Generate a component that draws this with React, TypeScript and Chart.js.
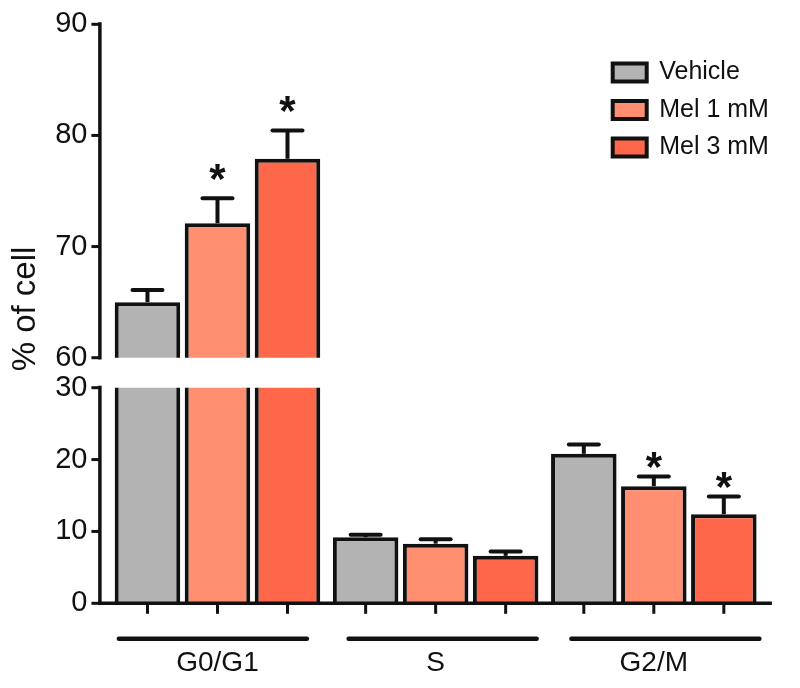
import React, { useEffect, useRef } from "react";
import { Chart, registerables } from "chart.js";

Chart.register(...registerables);

// ---------------- data ----------------
const groups = ["G0/G1", "S", "G2/M"];
const seriesNames = ["Vehicle", "Mel 1 mM", "Mel 3 mM"];
const vehicleValues = [65.0, 9.2, 20.8];
const mel1Values = [72.1, 8.3, 16.3];
const mel3Values = [77.9, 6.6, 12.4];
const vehicleErr = [1.1, 0.35, 1.3];
const mel1Err = [2.25, 0.6, 1.35];
const mel3Err = [2.55, 0.6, 2.45];
const vehicleSig = ["", "", ""];
const mel1Sig = ["*", "", "*"];
const mel3Sig = ["*", "", "*"];
const upperTicks = [60, 70, 80, 90];
const lowerTicks = [0, 10, 20, 30];
const yTitle = "% of cell";

// ---------------- style ----------------
const FONT = "'Liberation Sans', Arial, Helvetica, sans-serif";
const INK = "#111111";
const COLORS = ["#b3b3b3", "#ff8f70", "#ff674a"];
const AXIS_GAP = 8.5;
const SIG_OFFSET = 2.3; // asterisk placed this many data units above error bar
const GROUP_SHIFT = [-4.6, 7, 11.6];

Chart.defaults.font.family = FONT;
Chart.defaults.color = INK;

const allValues = [vehicleValues, mel1Values, mel3Values];
const allErr = [vehicleErr, mel1Err, mel3Err];
const allSig = [vehicleSig, mel1Sig, mel3Sig];

function buildDatasets() {
  return seriesNames.map((name, i) => ({
    label: name,
    data: allValues[i],
    backgroundColor: COLORS[i],
    borderColor: INK,
    borderWidth: 4,
    categoryPercentage: 0.9627,
    barPercentage: 0.936,
    clip: 0,
    errors: allErr[i],
    sig: allSig[i],
  }));
}

const decoPlugin = {
  id: "deco",
  afterDatasetsDraw(chart: any) {
    const ctx = chart.ctx;
    const ys = chart.scales.y;
    ctx.save();
    ctx.strokeStyle = INK;
    ctx.fillStyle = INK;
    chart.data.datasets.forEach((ds: any, i: number) => {
      const meta = chart.getDatasetMeta(i);
      ds.data.forEach((v: number, j: number) => {
        if (v < ys.min || v > ys.max) return;
        const el = meta.data[j];
        const x = el.x;
        const top = ys.getPixelForValue(v);
        const e = ds.errors[j];
        const yErr = ys.getPixelForValue(v + e);
        ctx.lineWidth = 4;
        ctx.lineCap = "butt";
        ctx.beginPath();
        ctx.moveTo(x, top);
        ctx.lineTo(x, yErr);
        ctx.stroke();
        ctx.lineCap = "round";
        ctx.beginPath();
        ctx.moveTo(x - 15, yErr);
        ctx.lineTo(x + 15, yErr);
        ctx.stroke();
        if (ds.sig[j]) {
          const cy = ys.getPixelForValue(v + e + SIG_OFFSET);
          const size = 42;
          ctx.font = `bold ${size}px ${FONT}`;
          ctx.textAlign = "center";
          ctx.textBaseline = "alphabetic";
          ctx.fillText(ds.sig[j], x, cy + 0.49 * size);
        }
      });
    });
    ctx.restore();
  },
  afterDraw(chart: any, _args: any, opts: any) {
    const ctx = chart.ctx;
    const a = chart.chartArea;
    const xs = chart.scales.x;
    const ys = chart.scales.y;
    const axisX = a.left - AXIS_GAP;
    const lower = opts.part === "lower";
    ctx.save();
    ctx.strokeStyle = INK;
    ctx.fillStyle = INK;
    ctx.lineWidth = 3.5;
    ctx.lineCap = "butt";
    ctx.beginPath();
    ctx.moveTo(axisX, a.top - 2);
    ctx.lineTo(axisX, a.bottom + 1.75);
    ctx.stroke();
    ctx.lineWidth = 3;
    ys.ticks.forEach((t: any) => {
      const py = ys.getPixelForValue(t.value);
      ctx.beginPath();
      ctx.moveTo(axisX - 8.5, py);
      ctx.lineTo(axisX, py);
      ctx.stroke();
    });
    if (lower) {
      ctx.lineWidth = 3.5;
      ctx.beginPath();
      ctx.moveTo(axisX - 1.75, a.bottom);
      ctx.lineTo(a.right + 9, a.bottom);
      ctx.stroke();
      ctx.lineWidth = 3;
      chart.data.datasets.forEach((_ds: any, i: number) => {
        chart.getDatasetMeta(i).data.forEach((el: any) => {
          ctx.beginPath();
          ctx.moveTo(el.x, a.bottom);
          ctx.lineTo(el.x, a.bottom + 10.5);
          ctx.stroke();
        });
      });
      ctx.lineWidth = 4.5;
      ctx.lineCap = "round";
      groups.forEach((_g, j) => {
        const cx = xs.getPixelForValue(j) + GROUP_SHIFT[j];
        ctx.beginPath();
        ctx.moveTo(cx - 94, a.bottom + 35.5);
        ctx.lineTo(cx + 94, a.bottom + 35.5);
        ctx.stroke();
      });
      // y title centred across both panels
      ctx.save();
      ctx.translate(35, 309);
      ctx.rotate(-Math.PI / 2);
      ctx.font = `33px ${FONT}`;
      ctx.textAlign = "center";
      ctx.textBaseline = "alphabetic";
      ctx.fillText(yTitle, 0, 0);
      ctx.restore();
    }
    ctx.restore();
  },
};

const legendMover = {
  id: "legendMover",
  afterLayout(chart: any) {
    const lg = chart.legend;
    if (!lg) return;
    lg.left = 600.2;
    lg.top = 47.5;
    lg.right = 800;
    lg.bottom = 220;
    lg.width = 199.8;
    lg.height = 172.5;
  },
};

function buildConfig(part: "upper" | "lower"): any {
  const isUpper = part === "upper";
  const ticks = isUpper ? upperTicks : lowerTicks;
  const xScale: any = {
    type: "category",
    display: !isUpper,
    grid: { display: false, drawTicks: false },
    border: { display: false },
    ticks: {
      padding: 42.9,
      color: INK,
      font: { size: 28, family: FONT },
      maxRotation: 0,
      autoSkip: false,
    },
  };
  if (!isUpper) {
    xScale.afterFit = (s: any) => {
      s.height = 688 - 603.3;
    };
  }
  return {
    type: "bar",
    data: { labels: groups, datasets: buildDatasets() },
    plugins: isUpper ? [decoPlugin, legendMover] : [decoPlugin],
    options: {
      responsive: false,
      animation: false,
      devicePixelRatio: 1,
      events: [],
      layout: {
        padding: isUpper
          ? { left: 0, right: 37.1, top: 24.3, bottom: 688 - 357.7 }
          : { left: 0, right: 37.1, top: 387.7, bottom: 0 },
      },
      scales: {
        x: xScale,
        y: {
          type: "linear",
          min: ticks[0],
          max: ticks[ticks.length - 1],
          afterFit: (s: any) => {
            s.width = 108.4;
            s.paddingTop = 0;
            s.paddingBottom = 0;
          },
          afterBuildTicks: (s: any) => {
            s.ticks = ticks.map((v) => ({ value: v }));
          },
          grid: { display: false, drawTicks: false },
          border: { display: false },
          ticks: {
            padding: 21,
            color: INK,
            font: { size: 29, family: FONT },
          },
        },
      },
      plugins: {
        legend: isUpper
          ? {
              display: true,
              position: "chartArea",
              fullSize: false,
              align: "start",
              labels: {
                boxWidth: 34,
                boxHeight: 18,
                padding: 12.5,
                color: INK,
                font: { size: 25, family: FONT },
              },
            }
          : { display: false },
        tooltip: { enabled: false },
        deco: { part },
      },
    },
  };
}

export default function App() {
  const upperRef = useRef<HTMLCanvasElement>(null);
  const lowerRef = useRef<HTMLCanvasElement>(null);
  useEffect(() => {
    const up = new Chart(upperRef.current as HTMLCanvasElement, buildConfig("upper"));
    const lo = new Chart(lowerRef.current as HTMLCanvasElement, buildConfig("lower"));
    return () => {
      up.destroy();
      lo.destroy();
    };
  }, []);
  return (
    <div style={{ position: "absolute", left: 0, top: 0, width: 800, height: 688, background: "#ffffff" }}>
      <canvas ref={lowerRef} width={800} height={688} style={{ position: "absolute", left: 0, top: 0 }} />
      <canvas ref={upperRef} width={800} height={688} style={{ position: "absolute", left: 0, top: 0 }} />
    </div>
  );
}
